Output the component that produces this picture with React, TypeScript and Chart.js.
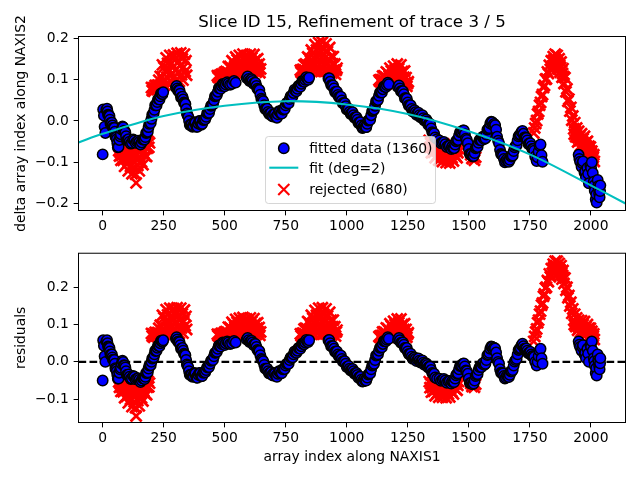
import React, { useEffect, useRef } from 'react';
import { Chart, registerables } from 'chart.js';

Chart.register(...registerables);

const FONT = "'DejaVu Sans', 'Liberation Sans', sans-serif";
const TICK_SIZE = 13.89;
const TITLE_SIZE = 16.67;
const BLUE = '#0000ff';
const RED = '#ff0000';
const CYAN = '#00bfbf';

const titleText = 'Slice ID 15, Refinement of trace 3 / 5';
const topYLabel = 'delta array index along NAXIS2';
const bottomYLabel = 'residuals';
const xLabel = 'array index along NAXIS1';
const legendLabels = ['fitted data (1360)', 'fit (deg=2)', 'rejected (680)'];

const X_MIN = -99;
const X_MAX = 2142;
const TOP_Y_MIN = -0.217;
const TOP_Y_MAX = 0.2048;
const BOT_Y_MIN = -0.1626;
const BOT_Y_MAX = 0.2913;

const xTicks = [0, 250, 500, 750, 1000, 1250, 1500, 1750, 2000];
const topYTicks = [-0.2, -0.1, 0.0, 0.1, 0.2];
const bottomYTicks = [-0.1, 0.0, 0.1, 0.2];

// polynomial fit curve
const fitX = [-99, 0, 250, 500, 750, 1000, 1250, 1500, 1750, 2000, 2142];
const fitY = [-0.052, -0.031, 0.012, 0.037, 0.048, 0.040, 0.017, -0.025, -0.081, -0.156, -0.200];

// zero line of the residual panel
const zeroX = [-99, 2142];
const zeroY = [0, 0];

// fitted data: [x, delta, residual]
const fittedPoints: [number, number, number][] = [
  [0, -0.081, -0.050], [2, 0.028, 0.058], [5, 0.013, 0.043], [8, -0.014, 0.015], [11, -0.029, 0.000],
  [15, 0.027, 0.055], [18, 0.030, 0.058], [20, 0.023, 0.050], [22, 0.015, 0.041], [25, 0.014, 0.040],
  [28, 0.012, 0.037], [30, 0.003, 0.028], [32, -0.006, 0.019], [35, -0.004, 0.020], [38, -0.004, 0.020],
  [40, -0.011, 0.012], [42, -0.017, 0.006], [45, -0.017, 0.005], [48, -0.017, 0.005], [50, -0.026, -0.005],
  [52, -0.037, -0.017], [55, -0.040, -0.020], [58, -0.044, -0.025], [60, -0.054, -0.035], [62, -0.064, -0.045],
  [65, -0.063, -0.045], [68, -0.046, -0.029], [72, -0.037, -0.020], [75, -0.032, -0.016], [78, -0.021, -0.005],
  [81, -0.013, 0.003], [84, -0.015, 0.000], [87, -0.024, -0.009], [90, -0.024, -0.010], [93, -0.028, -0.015],
  [96, -0.037, -0.025], [99, -0.047, -0.035], [102, -0.046, -0.035], [106, -0.044, -0.034], [110, -0.050, -0.040],
  [115, -0.055, -0.046], [120, -0.053, -0.045], [125, -0.045, -0.038], [130, -0.047, -0.040], [135, -0.053, -0.047],
  [140, -0.050, -0.045], [145, -0.048, -0.044], [150, -0.051, -0.048], [155, -0.057, -0.054], [160, -0.052, -0.050],
  [164, -0.045, -0.044], [168, -0.045, -0.045], [172, -0.045, -0.046],
  [175, -0.039, -0.040], [178, -0.029, -0.030], [182, -0.028, -0.030], [185, -0.026, -0.028], [188, -0.015, -0.018],
  [191, -0.007, -0.010], [194, -0.004, -0.008], [197, -0.005, -0.009], [200, 0.005, 0.000], [203, 0.015, 0.009],
  [206, 0.016, 0.010], [209, 0.019, 0.012], [212, 0.027, 0.020], [215, 0.038, 0.030], [218, 0.038, 0.030],
  [221, 0.038, 0.030], [224, 0.046, 0.038], [227, 0.053, 0.044], [230, 0.053, 0.044], [233, 0.052, 0.042],
  [236, 0.060, 0.050], [239, 0.067, 0.057], [242, 0.066, 0.055], [245, 0.065, 0.054], [248, 0.070, 0.058],
  [300, 0.081, 0.062], [303, 0.085, 0.066], [306, 0.079, 0.060], [309, 0.073, 0.054], [312, 0.075, 0.055],
  [315, 0.074, 0.053], [318, 0.066, 0.045], [321, 0.057, 0.035], [324, 0.057, 0.035], [327, 0.059, 0.037],
  [330, 0.052, 0.030], [333, 0.045, 0.022], [336, 0.043, 0.020], [339, 0.041, 0.018], [342, 0.029, 0.005],
  [345, 0.018, -0.007], [348, 0.014, -0.010], [351, 0.010, -0.015], [354, 0.000, -0.025], [357, -0.010, -0.035],
  [360, -0.009, -0.035], [364, -0.008, -0.034], [368, -0.014, -0.040], [372, -0.012, -0.038], [376, -0.003, -0.030],
  [380, -0.004, -0.031], [384, -0.014, -0.042], [388, -0.014, -0.043], [392, -0.006, -0.035], [396, 0.000, -0.030],
  [400, 0.000, -0.030], [404, -0.009, -0.039], [408, -0.007, -0.038], [412, 0.002, -0.029], [416, 0.003, -0.028],
  [420, 0.004, -0.028], [424, 0.010, -0.022], [428, 0.019, -0.014], [432, 0.018, -0.015], [436, 0.020, -0.014],
  [440, 0.029, -0.005], [444, 0.037, 0.003], [448, 0.039, 0.005], [452, 0.040, 0.005], [456, 0.050, 0.015],
  [460, 0.060, 0.024], [464, 0.061, 0.025], [468, 0.063, 0.027], [472, 0.071, 0.035], [476, 0.080, 0.044],
  [480, 0.079, 0.042], [484, 0.078, 0.041], [488, 0.085, 0.048], [492, 0.090, 0.052], [496, 0.088, 0.050],
  [500, 0.084, 0.045], [504, 0.089, 0.050], [510, 0.094, 0.055], [515, 0.091, 0.052], [522, 0.088, 0.048],
  [530, 0.090, 0.050], [538, 0.097, 0.056], [545, 0.093, 0.052],
  [590, 0.104, 0.060], [594, 0.108, 0.064], [598, 0.102, 0.058], [602, 0.097, 0.053], [606, 0.099, 0.055],
  [610, 0.101, 0.057], [614, 0.097, 0.052], [618, 0.090, 0.045], [622, 0.093, 0.048], [626, 0.093, 0.048],
  [630, 0.085, 0.040], [634, 0.078, 0.032], [638, 0.076, 0.030], [642, 0.075, 0.029], [646, 0.064, 0.018],
  [650, 0.054, 0.008], [654, 0.051, 0.005], [658, 0.048, 0.002], [662, 0.038, -0.008], [666, 0.029, -0.018],
  [670, 0.029, -0.018], [674, 0.030, -0.018], [678, 0.022, -0.025], [682, 0.017, -0.031], [686, 0.017, -0.030],
  [690, 0.020, -0.028], [694, 0.012, -0.035], [698, 0.011, -0.037], [702, 0.017, -0.030], [706, 0.017, -0.031],
  [710, 0.010, -0.038], [714, 0.008, -0.040], [718, 0.016, -0.032], [722, 0.024, -0.025], [726, 0.023, -0.025],
  [730, 0.018, -0.031], [734, 0.018, -0.030], [738, 0.028, -0.020], [742, 0.028, -0.020], [746, 0.029, -0.019],
  [750, 0.038, -0.010], [754, 0.044, -0.005], [758, 0.043, -0.005], [762, 0.043, -0.005], [766, 0.053, 0.005],
  [770, 0.060, 0.012], [774, 0.058, 0.010], [778, 0.060, 0.012], [782, 0.068, 0.020], [786, 0.076, 0.028],
  [790, 0.073, 0.025], [794, 0.072, 0.024], [798, 0.078, 0.030], [802, 0.085, 0.037], [806, 0.086, 0.038],
  [810, 0.083, 0.035], [814, 0.090, 0.042], [818, 0.097, 0.049], [822, 0.096, 0.048], [826, 0.095, 0.047],
  [830, 0.100, 0.052], [834, 0.106, 0.059], [838, 0.102, 0.055], [842, 0.100, 0.053], [846, 0.105, 0.058],
  [925, 0.103, 0.058], [928, 0.104, 0.059], [932, 0.095, 0.050], [936, 0.087, 0.042], [940, 0.086, 0.042],
  [944, 0.086, 0.042], [948, 0.079, 0.035], [952, 0.070, 0.027], [956, 0.071, 0.028], [960, 0.071, 0.028],
  [964, 0.063, 0.020], [968, 0.058, 0.015], [972, 0.058, 0.015], [976, 0.059, 0.017], [980, 0.050, 0.008],
  [984, 0.043, 0.001], [988, 0.044, 0.002], [992, 0.043, 0.002], [996, 0.036, -0.005], [1000, 0.028, -0.014],
  [1004, 0.029, -0.012], [1008, 0.030, -0.011], [1012, 0.022, -0.018], [1016, 0.017, -0.023], [1020, 0.018, -0.022],
  [1024, 0.021, -0.019], [1028, 0.014, -0.025], [1032, 0.008, -0.032], [1036, 0.009, -0.030], [1040, 0.009, -0.030],
  [1044, 0.003, -0.035], [1048, -0.005, -0.043], [1052, -0.003, -0.040], [1056, -0.003, -0.040], [1060, -0.011, -0.048],
  [1064, -0.017, -0.053], [1068, -0.016, -0.052], [1072, -0.011, -0.046], [1076, -0.015, -0.050], [1080, -0.015, -0.050],
  [1084, -0.007, -0.042], [1088, 0.001, -0.034], [1092, 0.002, -0.032], [1096, 0.003, -0.031], [1100, 0.014, -0.020],
  [1104, 0.024, -0.010], [1108, 0.025, -0.008], [1112, 0.028, -0.005], [1116, 0.037, 0.005], [1120, 0.048, 0.017],
  [1124, 0.049, 0.018], [1128, 0.051, 0.020], [1132, 0.061, 0.030], [1136, 0.069, 0.038], [1140, 0.070, 0.040],
  [1144, 0.069, 0.039], [1148, 0.077, 0.048], [1152, 0.084, 0.056], [1156, 0.083, 0.055], [1160, 0.082, 0.055],
  [1164, 0.087, 0.060], [1168, 0.093, 0.066], [1172, 0.089, 0.062],
  [1210, 0.082, 0.060], [1214, 0.086, 0.064], [1218, 0.079, 0.058], [1222, 0.072, 0.051], [1226, 0.072, 0.052],
  [1230, 0.072, 0.052], [1234, 0.065, 0.046], [1238, 0.055, 0.037], [1242, 0.055, 0.037], [1246, 0.054, 0.037],
  [1250, 0.045, 0.028], [1254, 0.038, 0.021], [1258, 0.036, 0.020], [1262, 0.038, 0.022], [1266, 0.029, 0.014],
  [1270, 0.023, 0.008], [1274, 0.024, 0.010], [1278, 0.026, 0.012], [1282, 0.021, 0.008], [1286, 0.015, 0.002],
  [1290, 0.018, 0.006], [1294, 0.020, 0.009], [1298, 0.014, 0.003], [1302, 0.009, -0.002], [1306, 0.010, 0.000],
  [1310, 0.014, 0.004], [1314, 0.007, -0.002], [1318, 0.001, -0.008], [1322, 0.003, -0.005], [1326, 0.004, -0.004],
  [1330, -0.001, -0.008], [1334, -0.009, -0.015], [1338, -0.006, -0.012], [1342, -0.008, -0.013], [1346, -0.018, -0.022],
  [1350, -0.027, -0.030], [1354, -0.029, -0.032], [1358, -0.030, -0.032], [1362, -0.040, -0.042],
  [1370, -0.044, -0.045], [1380, -0.047, -0.045], [1386, -0.054, -0.051], [1392, -0.052, -0.048], [1398, -0.051, -0.046],
  [1404, -0.056, -0.050], [1410, -0.063, -0.056], [1416, -0.060, -0.052], [1422, -0.060, -0.051], [1428, -0.068, -0.058],
  [1432, -0.062, -0.052],
  [1436, -0.066, -0.055], [1440, -0.066, -0.054], [1444, -0.057, -0.045], [1448, -0.049, -0.036], [1452, -0.046, -0.032],
  [1456, -0.046, -0.031], [1460, -0.035, -0.020], [1464, -0.027, -0.011], [1468, -0.027, -0.010], [1472, -0.028, -0.011],
  [1476, -0.023, -0.005], [1480, -0.023, -0.004], [1484, -0.032, -0.012], [1488, -0.043, -0.023], [1492, -0.046, -0.025],
  [1496, -0.054, -0.032], [1500, -0.068, -0.045], [1504, -0.080, -0.057], [1508, -0.082, -0.058], [1512, -0.080, -0.055],
  [1516, -0.086, -0.060], [1520, -0.085, -0.058], [1524, -0.078, -0.050], [1528, -0.066, -0.038], [1532, -0.064, -0.035],
  [1536, -0.063, -0.033], [1540, -0.053, -0.022], [1544, -0.046, -0.014], [1548, -0.045, -0.012], [1552, -0.047, -0.014],
  [1556, -0.039, -0.005], [1560, -0.038, -0.003], [1564, -0.044, -0.008], [1568, -0.042, -0.005], [1572, -0.033, 0.005],
  [1576, -0.021, 0.018], [1580, -0.019, 0.020], [1584, -0.017, 0.024], [1588, -0.006, 0.035], [1592, -0.002, 0.041],
  [1596, -0.003, 0.040], [1600, -0.010, 0.034], [1604, -0.007, 0.038], [1608, -0.010, 0.036], [1612, -0.021, 0.025],
  [1616, -0.038, 0.010], [1620, -0.048, 0.000], [1624, -0.054, -0.005], [1628, -0.070, -0.020], [1632, -0.080, -0.029],
  [1636, -0.082, -0.030], [1640, -0.084, -0.031], [1644, -0.092, -0.038], [1648, -0.100, -0.045], [1652, -0.097, -0.042],
  [1656, -0.093, -0.037], [1660, -0.097, -0.040], [1664, -0.099, -0.041], [1668, -0.094, -0.035], [1672, -0.085, -0.025],
  [1676, -0.086, -0.025], [1680, -0.084, -0.022], [1684, -0.073, -0.010], [1688, -0.064, 0.001], [1692, -0.060, 0.005],
  [1696, -0.059, 0.008], [1700, -0.047, 0.020], [1704, -0.037, 0.032], [1708, -0.034, 0.035], [1712, -0.033, 0.037],
  [1716, -0.026, 0.045], [1720, -0.024, 0.049], [1724, -0.031, 0.042], [1728, -0.040, 0.035], [1732, -0.040, 0.035],
  [1736, -0.041, 0.036], [1740, -0.047, 0.030], [1744, -0.056, 0.023], [1748, -0.054, 0.025], [1752, -0.054, 0.027],
  [1756, -0.061, 0.020], [1760, -0.068, 0.015], [1764, -0.068, 0.015], [1768, -0.072, 0.013], [1772, -0.086, 0.000],
  [1778, -0.097, -0.010], [1782, -0.088, 0.000], [1786, -0.074, 0.015], [1790, -0.060, 0.030], [1794, -0.057, 0.035],
  [1798, -0.083, 0.010], [1802, -0.099, -0.005],
  [1950, -0.082, 0.055], [1953, -0.092, 0.046], [1956, -0.099, 0.040], [1962, -0.111, 0.030], [1965, -0.102, 0.040],
  [1968, -0.098, 0.045], [1974, -0.125, 0.020], [1977, -0.122, 0.024], [1980, -0.137, 0.010], [1986, -0.114, 0.035],
  [1989, -0.128, 0.022], [1992, -0.151, 0.000], [1998, -0.108, 0.045], [2001, -0.114, 0.040], [2004, -0.100, 0.055],
  [2008, -0.126, 0.030], [2012, -0.147, 0.010], [2014, -0.156, 0.002], [2016, -0.169, -0.010], [2020, -0.190, -0.030],
  [2022, -0.178, -0.017], [2024, -0.198, -0.037], [2028, -0.143, 0.020], [2030, -0.158, 0.005], [2032, -0.164, 0.000],
  [2034, -0.176, -0.011], [2036, -0.185, -0.020], [2038, -0.170, -0.004], [2039, -0.156, 0.010],
];

// rejected data: [x, delta, residual]
const rejectedPoints: [number, number, number][] = [
  [66, -0.072, -0.054], [69, -0.085, -0.068], [72, -0.076, -0.059], [75, -0.095, -0.079], [78, -0.084, -0.068],
  [81, -0.072, -0.057], [84, -0.095, -0.080], [87, -0.078, -0.064], [90, -0.110, -0.096], [93, -0.089, -0.076],
  [96, -0.064, -0.052], [99, -0.104, -0.092], [102, -0.078, -0.067], [105, -0.121, -0.110], [108, -0.093, -0.083],
  [111, -0.066, -0.056], [114, -0.110, -0.101], [117, -0.079, -0.070], [120, -0.128, -0.120], [123, -0.096, -0.088],
  [126, -0.060, -0.053], [129, -0.114, -0.107], [132, -0.078, -0.072], [135, -0.129, -0.123], [137, -0.150, -0.145],
  [138, -0.094, -0.089], [141, -0.062, -0.057], [144, -0.108, -0.104], [147, -0.075, -0.071], [150, -0.121, -0.118],
  [153, -0.088, -0.085], [156, -0.055, -0.053], [159, -0.099, -0.097], [162, -0.069, -0.068], [165, -0.106, -0.105],
  [168, -0.078, -0.078], [171, -0.056, -0.056], [174, -0.084, -0.085], [177, -0.063, -0.064], [180, -0.086, -0.088],
  [183, -0.066, -0.068], [186, -0.049, -0.052], [189, -0.064, -0.067], [192, -0.053, -0.057],
  [200, 0.081, 0.076], [203, 0.074, 0.069], [206, 0.080, 0.074], [209, 0.072, 0.066], [212, 0.080, 0.073],
  [215, 0.086, 0.079], [218, 0.078, 0.070], [221, 0.086, 0.078], [224, 0.076, 0.068], [227, 0.087, 0.078],
  [230, 0.099, 0.090], [233, 0.086, 0.076], [236, 0.108, 0.098], [239, 0.080, 0.069], [242, 0.107, 0.096],
  [245, 0.136, 0.125], [248, 0.098, 0.086], [251, 0.130, 0.118], [254, 0.087, 0.074], [257, 0.120, 0.107],
  [260, 0.153, 0.140], [263, 0.106, 0.092], [266, 0.140, 0.126], [269, 0.091, 0.076], [272, 0.125, 0.110],
  [275, 0.159, 0.144], [278, 0.111, 0.095], [281, 0.140, 0.124], [284, 0.093, 0.076], [287, 0.130, 0.113],
  [290, 0.160, 0.143], [293, 0.108, 0.090], [296, 0.148, 0.130], [299, 0.096, 0.077], [302, 0.126, 0.107],
  [305, 0.164, 0.145], [308, 0.116, 0.096], [311, 0.144, 0.124], [314, 0.096, 0.076], [317, 0.134, 0.113],
  [320, 0.165, 0.144], [323, 0.112, 0.091], [326, 0.151, 0.129], [329, 0.099, 0.077], [332, 0.131, 0.108],
  [335, 0.162, 0.139], [338, 0.120, 0.097], [341, 0.146, 0.122], [344, 0.111, 0.087],
  [470, 0.110, 0.074], [473, 0.106, 0.070], [476, 0.110, 0.073], [479, 0.105, 0.068], [482, 0.108, 0.071],
  [485, 0.113, 0.076], [488, 0.107, 0.070], [491, 0.114, 0.076], [494, 0.106, 0.068], [497, 0.112, 0.074],
  [500, 0.118, 0.080], [503, 0.111, 0.072], [506, 0.120, 0.081], [509, 0.107, 0.068], [512, 0.118, 0.079],
  [515, 0.132, 0.093], [518, 0.115, 0.075], [521, 0.132, 0.092], [524, 0.110, 0.070], [527, 0.128, 0.088],
  [530, 0.146, 0.106], [533, 0.123, 0.082], [536, 0.142, 0.101], [539, 0.114, 0.073], [542, 0.134, 0.093],
  [545, 0.155, 0.114], [548, 0.125, 0.084], [551, 0.148, 0.106], [554, 0.116, 0.074], [557, 0.137, 0.095],
  [560, 0.159, 0.117], [563, 0.128, 0.086], [566, 0.146, 0.103], [569, 0.115, 0.072], [572, 0.141, 0.098],
  [575, 0.162, 0.119], [578, 0.125, 0.082], [581, 0.151, 0.108], [584, 0.118, 0.075], [587, 0.136, 0.092],
  [590, 0.159, 0.115], [593, 0.131, 0.087], [596, 0.148, 0.104], [599, 0.116, 0.072], [602, 0.141, 0.097],
  [605, 0.162, 0.118], [608, 0.127, 0.082], [611, 0.153, 0.108], [614, 0.119, 0.074], [617, 0.138, 0.093],
  [620, 0.161, 0.116], [623, 0.129, 0.084], [626, 0.148, 0.103], [629, 0.118, 0.073], [632, 0.136, 0.090],
  [635, 0.151, 0.105], [638, 0.126, 0.080], [641, 0.138, 0.092], [644, 0.117, 0.071], [647, 0.126, 0.080],
  [810, 0.123, 0.075], [813, 0.118, 0.070], [816, 0.124, 0.076], [819, 0.116, 0.068], [822, 0.125, 0.077],
  [825, 0.136, 0.088], [828, 0.123, 0.075], [831, 0.138, 0.090], [834, 0.119, 0.071], [837, 0.135, 0.088],
  [840, 0.155, 0.108], [843, 0.130, 0.083], [846, 0.152, 0.105], [849, 0.121, 0.074], [852, 0.145, 0.098],
  [855, 0.172, 0.125], [858, 0.135, 0.088], [861, 0.164, 0.117], [864, 0.121, 0.074], [867, 0.152, 0.105],
  [870, 0.185, 0.138], [873, 0.138, 0.091], [876, 0.172, 0.125], [879, 0.121, 0.075], [882, 0.155, 0.109],
  [885, 0.190, 0.144], [888, 0.138, 0.092], [891, 0.172, 0.126], [894, 0.120, 0.074], [897, 0.155, 0.109],
  [900, 0.191, 0.145], [903, 0.136, 0.090], [906, 0.174, 0.128], [909, 0.120, 0.075], [912, 0.153, 0.108],
  [915, 0.187, 0.142], [918, 0.136, 0.091], [921, 0.168, 0.123], [924, 0.119, 0.074], [927, 0.150, 0.105],
  [930, 0.178, 0.133], [933, 0.132, 0.087], [936, 0.156, 0.112], [939, 0.116, 0.072], [942, 0.138, 0.094],
  [945, 0.156, 0.112], [948, 0.123, 0.079], [951, 0.138, 0.094], [954, 0.113, 0.069], [957, 0.123, 0.080],
  [960, 0.128, 0.085],
  [1132, 0.099, 0.068], [1135, 0.096, 0.066], [1138, 0.100, 0.070], [1141, 0.094, 0.064], [1144, 0.100, 0.071],
  [1147, 0.109, 0.080], [1150, 0.098, 0.069], [1153, 0.109, 0.080], [1156, 0.093, 0.065], [1159, 0.106, 0.078],
  [1162, 0.119, 0.091], [1165, 0.100, 0.073], [1168, 0.116, 0.089], [1171, 0.093, 0.066], [1174, 0.109, 0.083],
  [1177, 0.128, 0.102], [1180, 0.102, 0.076], [1183, 0.121, 0.096], [1186, 0.092, 0.067], [1189, 0.113, 0.088],
  [1192, 0.133, 0.109], [1195, 0.102, 0.078], [1198, 0.124, 0.100], [1201, 0.090, 0.067], [1204, 0.114, 0.091],
  [1207, 0.138, 0.115], [1210, 0.102, 0.080], [1213, 0.127, 0.105], [1216, 0.090, 0.068], [1219, 0.113, 0.092],
  [1222, 0.136, 0.115], [1225, 0.100, 0.080], [1228, 0.120, 0.100], [1231, 0.087, 0.067], [1234, 0.106, 0.087],
  [1237, 0.121, 0.102], [1240, 0.093, 0.074], [1243, 0.105, 0.087], [1246, 0.084, 0.066], [1249, 0.091, 0.074],
  [1252, 0.095, 0.078],
  [1338, -0.047, -0.053], [1341, -0.064, -0.069], [1344, -0.054, -0.059], [1347, -0.077, -0.081], [1350, -0.065, -0.069],
  [1353, -0.052, -0.055], [1356, -0.076, -0.079], [1359, -0.059, -0.062], [1362, -0.089, -0.091], [1365, -0.071, -0.073],
  [1368, -0.051, -0.052], [1371, -0.083, -0.084], [1374, -0.063, -0.063], [1377, -0.095, -0.095], [1380, -0.075, -0.074],
  [1383, -0.055, -0.054], [1386, -0.087, -0.085], [1389, -0.066, -0.064], [1392, -0.098, -0.095], [1395, -0.079, -0.076],
  [1398, -0.056, -0.052], [1401, -0.087, -0.083], [1404, -0.069, -0.064], [1407, -0.101, -0.096], [1410, -0.079, -0.073],
  [1413, -0.061, -0.055], [1416, -0.093, -0.086], [1419, -0.069, -0.062], [1422, -0.102, -0.094], [1425, -0.080, -0.072],
  [1428, -0.062, -0.053], [1431, -0.089, -0.080], [1434, -0.072, -0.062], [1437, -0.097, -0.086], [1440, -0.080, -0.069],
  [1443, -0.066, -0.054], [1446, -0.085, -0.073], [1449, -0.072, -0.059], [1452, -0.089, -0.076], [1455, -0.077, -0.063],
  [1458, -0.067, -0.053],
  [1508, -0.082, -0.058], [1513, -0.091, -0.066], [1518, -0.088, -0.062], [1523, -0.095, -0.068], [1528, -0.088, -0.060],
  [1766, -0.029, 0.055], [1770, -0.017, 0.068], [1774, -0.006, 0.080], [1778, 0.001, 0.088], [1782, 0.017, 0.105],
  [1786, 0.023, 0.112], [1790, 0.038, 0.128], [1794, 0.045, 0.136], [1798, 0.059, 0.152], [1802, 0.064, 0.158],
  [1806, 0.081, 0.176], [1810, 0.086, 0.182], [1814, 0.101, 0.198], [1818, 0.102, 0.200], [1822, 0.119, 0.218],
  [1826, 0.115, 0.215], [1830, 0.135, 0.236], [1834, 0.125, 0.228], [1838, 0.146, 0.250], [1842, 0.133, 0.238],
  [1844, 0.145, 0.250], [1846, 0.156, 0.262], [1848, 0.148, 0.255], [1850, 0.133, 0.240], [1852, 0.144, 0.252],
  [1854, 0.162, 0.270], [1856, 0.149, 0.258], [1858, 0.136, 0.245], [1860, 0.145, 0.255], [1862, 0.159, 0.270],
  [1864, 0.141, 0.252], [1866, 0.126, 0.238], [1868, 0.138, 0.250], [1870, 0.151, 0.264], [1872, 0.135, 0.248],
  [1874, 0.118, 0.232], [1876, 0.130, 0.245], [1878, 0.143, 0.258], [1880, 0.122, 0.238], [1882, 0.106, 0.222],
  [1884, 0.115, 0.232], [1886, 0.127, 0.245], [1888, 0.108, 0.226], [1890, 0.091, 0.210], [1894, 0.105, 0.225],
  [1898, 0.071, 0.192], [1902, 0.078, 0.200], [1906, 0.048, 0.172], [1910, 0.053, 0.178], [1914, 0.024, 0.150],
  [1918, 0.033, 0.160], [1922, 0.002, 0.130], [1926, 0.012, 0.142], [1930, -0.019, 0.112], [1932, -0.032, 0.100],
  [1934, -0.004, 0.128], [1936, -0.025, 0.108], [1938, -0.038, 0.095], [1940, -0.032, 0.102], [1942, -0.017, 0.118],
  [1944, -0.037, 0.098], [1946, -0.051, 0.085], [1948, -0.041, 0.096], [1950, -0.025, 0.112], [1952, -0.048, 0.090],
  [1954, -0.038, 0.100], [1956, -0.047, 0.092], [1958, -0.060, 0.080], [1960, -0.045, 0.095], [1962, -0.031, 0.110],
  [1964, -0.057, 0.085], [1966, -0.050, 0.092], [1968, -0.043, 0.100], [1970, -0.066, 0.078], [1972, -0.054, 0.090],
  [1974, -0.037, 0.108], [1976, -0.063, 0.082], [1978, -0.058, 0.088], [1980, -0.052, 0.095], [1982, -0.072, 0.075],
  [1984, -0.062, 0.086], [1986, -0.049, 0.100], [1988, -0.071, 0.078], [1990, -0.068, 0.082], [1992, -0.061, 0.090],
  [1994, -0.081, 0.070], [1996, -0.072, 0.080], [1998, -0.063, 0.090], [2000, -0.081, 0.072], [2002, -0.079, 0.075],
  [2004, -0.073, 0.082], [2006, -0.093, 0.062], [2008, -0.090, 0.066], [2010, -0.087, 0.070], [2012, -0.082, 0.075],
  [2014, -0.098, 0.060],
];

const fmtY = (v: number) => {
  const s = Math.abs(v) < 1e-9 ? '0.0' : v.toFixed(1);
  return s.replace('-', '\u2212');
};

function makeX(height: number, title?: { text: string; padBottom: number }) {
  return {
    type: 'linear',
    min: X_MIN,
    max: X_MAX,
    afterBuildTicks: (s: any) => { s.ticks = xTicks.map((v) => ({ value: v })); },
    afterFit: (s: any) => { s.height = height; },
    ticks: {
      autoSkip: false, maxRotation: 0, minRotation: 0, padding: 2.3, color: '#000',
      font: { family: FONT, size: TICK_SIZE },
      callback: (v: any) => String(v),
    },
    grid: { display: true, drawOnChartArea: false, drawTicks: true, tickLength: 4.86, color: '#000', lineWidth: 1 },
    border: { display: false },
    title: title
      ? { display: true, text: title.text, color: '#000', font: { family: FONT, size: TICK_SIZE }, padding: { top: 0, bottom: title.padBottom } }
      : { display: false },
  };
}

function makeY(min: number, max: number, ticks: number[], label: string) {
  return {
    type: 'linear',
    min,
    max,
    afterBuildTicks: (s: any) => { s.ticks = ticks.map((v) => ({ value: v })); },
    afterFit: (s: any) => { s.width = 78.5; },
    ticks: {
      padding: 4.9, color: '#000', font: { family: FONT, size: TICK_SIZE },
      callback: (v: any) => fmtY(Number(v)),
    },
    grid: { display: true, drawOnChartArea: false, drawTicks: true, tickLength: 4.86, color: '#000', lineWidth: 1 },
    border: { display: false },
    title: { display: true, text: label, color: '#000', font: { family: FONT, size: TICK_SIZE }, padding: { top: 13.3, bottom: 0 } },
  };
}

const framePlugin = {
  id: 'axesFrame',
  afterDraw(chart: any) {
    const { ctx, chartArea: a } = chart;
    ctx.save();
    ctx.strokeStyle = '#000';
    ctx.lineWidth = 1;
    ctx.strokeRect(a.left, a.top, a.right - a.left, a.bottom - a.top);
    ctx.restore();
  },
};

const legendPlugin = {
  id: 'insideLegend',
  afterDraw(chart: any) {
    const ctx = chart.ctx;
    ctx.save();
    const bx = 265.5, by = 136.5, bw = 170, bh = 67, r = 3;
    ctx.beginPath();
    ctx.moveTo(bx + r, by);
    ctx.lineTo(bx + bw - r, by);
    ctx.arcTo(bx + bw, by, bx + bw, by + r, r);
    ctx.lineTo(bx + bw, by + bh - r);
    ctx.arcTo(bx + bw, by + bh, bx + bw - r, by + bh, r);
    ctx.lineTo(bx + r, by + bh);
    ctx.arcTo(bx, by + bh, bx, by + bh - r, r);
    ctx.lineTo(bx, by + r);
    ctx.arcTo(bx, by, bx + r, by, r);
    ctx.closePath();
    ctx.fillStyle = 'rgba(255,255,255,0.8)';
    ctx.fill();
    ctx.strokeStyle = 'rgba(204,204,204,0.8)';
    ctx.lineWidth = 1;
    ctx.stroke();

    ctx.beginPath();
    ctx.arc(283.8, 148.3, 5.2, 0, Math.PI * 2);
    ctx.fillStyle = BLUE;
    ctx.fill();
    ctx.strokeStyle = '#000';
    ctx.lineWidth = 1.5;
    ctx.stroke();

    ctx.beginPath();
    ctx.moveTo(269.3, 167.7);
    ctx.lineTo(298.3, 167.7);
    ctx.strokeStyle = CYAN;
    ctx.lineWidth = 2.1;
    ctx.stroke();

    const cx = 283.8, cy = 189.5, h = 5.55;
    ctx.beginPath();
    ctx.moveTo(cx - h, cy - h);
    ctx.lineTo(cx + h, cy + h);
    ctx.moveTo(cx + h, cy - h);
    ctx.lineTo(cx - h, cy + h);
    ctx.strokeStyle = RED;
    ctx.lineWidth = 2.1;
    ctx.stroke();

    ctx.fillStyle = '#000';
    ctx.font = `${TICK_SIZE}px ${FONT}`;
    ctx.textAlign = 'left';
    ctx.textBaseline = 'alphabetic';
    ctx.fillText(legendLabels[0], 309.3, 152.7);
    ctx.fillText(legendLabels[1], 309.3, 173.3);
    ctx.fillText(legendLabels[2], 309.3, 194.3);
    ctx.restore();
  },
};

const rejectedStyle = {
  pointStyle: 'crossRot', pointRadius: 7.8, pointBorderWidth: 2.7,
  pointBorderColor: RED, pointBackgroundColor: RED, clip: 0,
};
const fittedStyle = {
  pointStyle: 'circle', pointRadius: 5.2, pointBorderWidth: 1.5,
  pointBackgroundColor: BLUE, pointBorderColor: '#000', clip: 0,
};

export default function App() {
  const topRef = useRef<HTMLCanvasElement>(null);
  const botRef = useRef<HTMLCanvasElement>(null);

  useEffect(() => {
    Chart.defaults.font.family = FONT;
    const top = new Chart(topRef.current as HTMLCanvasElement, {
      type: 'scatter',
      data: {
        datasets: [
          { label: legendLabels[2], data: rejectedPoints.map((p) => ({ x: p[0], y: p[1] })), ...rejectedStyle, order: 3 } as any,
          { label: legendLabels[0], data: fittedPoints.map((p) => ({ x: p[0], y: p[1] })), ...fittedStyle, order: 2 } as any,
          {
            label: legendLabels[1],
            data: fitX.map((x, i) => ({ x, y: fitY[i] })),
            showLine: true, pointRadius: 0, borderColor: CYAN, borderWidth: 2.1,
            tension: 0.33, fill: false, order: 1, clip: 0,
          } as any,
        ],
      },
      options: {
        responsive: false,
        animation: false,
        events: [],
        layout: { autoPadding: false, padding: { left: 0, right: 14.5, top: 0, bottom: 0 } },
        plugins: {
          legend: { display: false },
          tooltip: { enabled: false },
          title: {
            display: true, text: titleText, color: '#000', fullSize: false, align: 'center',
            font: { family: FONT, size: TITLE_SIZE, weight: 'normal' },
            padding: { top: 12.5, bottom: 4 },
          },
        },
        scales: {
          x: makeX(29.5) as any,
          y: makeY(TOP_Y_MIN, TOP_Y_MAX, topYTicks, topYLabel) as any,
        },
      } as any,
      plugins: [framePlugin, legendPlugin],
    });

    const bot = new Chart(botRef.current as HTMLCanvasElement, {
      type: 'scatter',
      data: {
        datasets: [
          {
            label: 'zero',
            data: zeroX.map((x, i) => ({ x, y: zeroY[i] })),
            showLine: true, pointRadius: 0, borderColor: '#000', borderWidth: 2.1,
            borderDash: [7.7, 3.3], fill: false, order: 4, clip: 0,
          } as any,
          { label: legendLabels[2], data: rejectedPoints.map((p) => ({ x: p[0], y: p[2] })), ...rejectedStyle, order: 3 } as any,
          { label: legendLabels[0], data: fittedPoints.map((p) => ({ x: p[0], y: p[2] })), ...fittedStyle, order: 2 } as any,
        ],
      },
      options: {
        responsive: false,
        animation: false,
        events: [],
        layout: { autoPadding: false, padding: { left: 0, right: 14.5, top: 8.5, bottom: 0 } },
        plugins: {
          legend: { display: false },
          tooltip: { enabled: false },
          title: { display: false },
        },
        scales: {
          x: makeX(57.5, { text: xLabel, padBottom: 14.5 }) as any,
          y: makeY(BOT_Y_MIN, BOT_Y_MAX, bottomYTicks, bottomYLabel) as any,
        },
      } as any,
      plugins: [framePlugin],
    });

    return () => {
      top.destroy();
      bot.destroy();
    };
  }, []);

  return (
    <div style={{ position: 'fixed', left: 0, top: 0, width: 640, height: 480, background: '#fff' }}>
      <canvas ref={topRef} width={640} height={240} style={{ display: 'block', width: 640, height: 240 }} />
      <canvas ref={botRef} width={640} height={240} style={{ display: 'block', width: 640, height: 240 }} />
    </div>
  );
}
